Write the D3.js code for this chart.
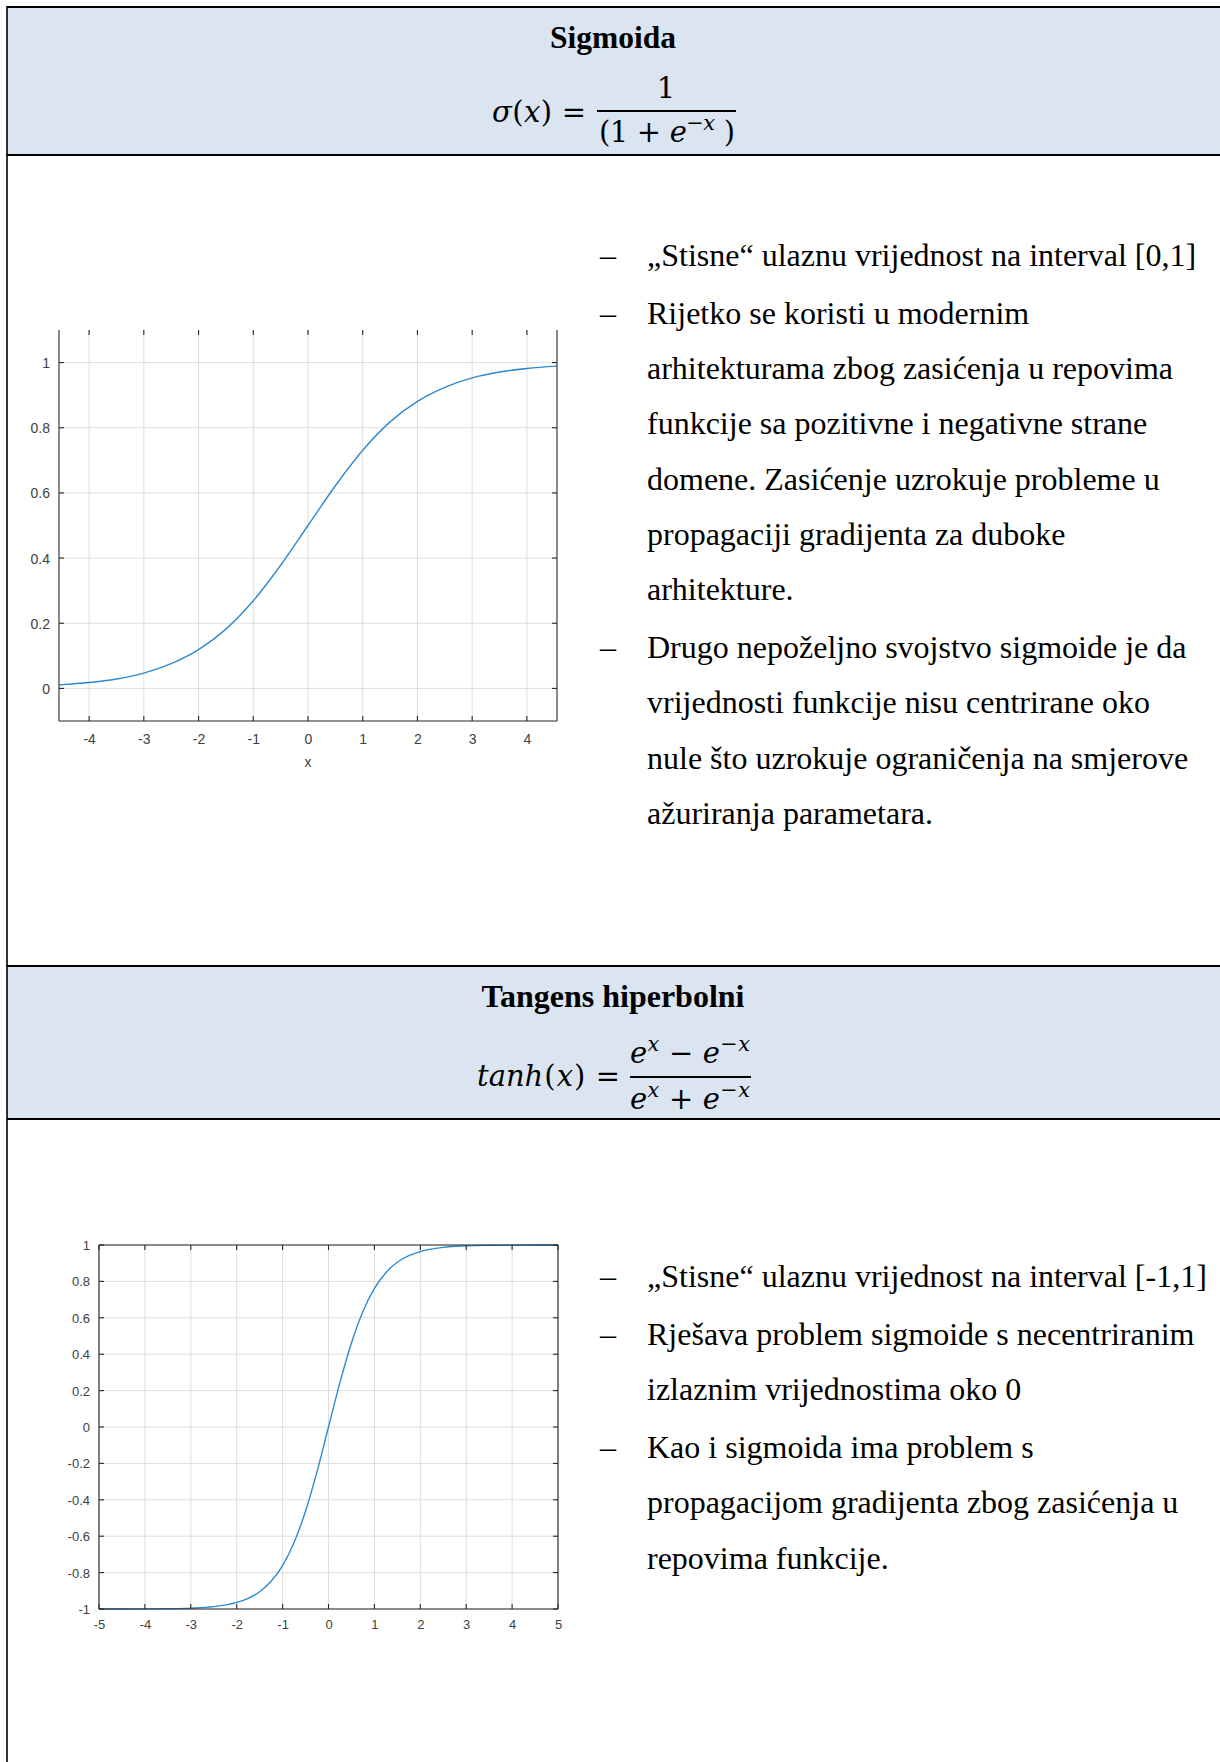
<!DOCTYPE html>
<html>
<head>
<meta charset="utf-8">
<script src="https://cdn.jsdelivr.net/npm/d3@7"></script>
<style>
  html, body { margin: 0; padding: 0; background: #ffffff; }
  svg { display: block; }
</style>
</head>
<body>
<svg id="page" width="1220" height="1762"></svg>
<script>
// ---------- DATA ----------
const sigmoidX = [-4.55, -4, -3.5, -3, -2.5, -2, -1.5, -1, -0.5, 0, 0.5, 1, 1.5, 2, 2.5, 3, 3.5, 4, 4.55];
const sigmoidY = [0.011, 0.018, 0.029, 0.047, 0.076, 0.119, 0.182, 0.269, 0.378, 0.5, 0.622, 0.731, 0.818, 0.881, 0.924, 0.953, 0.971, 0.982, 0.989];
const sigmoidXTicks = [-4, -3, -2, -1, 0, 1, 2, 3, 4];
const sigmoidYTicks = [0, 0.2, 0.4, 0.6, 0.8, 1];
const sigmoidXDomain = [-4.55, 4.55];
const sigmoidYDomain = [-0.1, 1.1];

const tanhX = [-5, -4.5, -4, -3.5, -3, -2.5, -2, -1.75, -1.5, -1.25, -1, -0.75, -0.5, -0.25, 0, 0.25, 0.5, 0.75, 1, 1.25, 1.5, 1.75, 2, 2.5, 3, 3.5, 4, 4.5, 5];
const tanhY = [-0.9999, -0.9998, -0.9993, -0.998, -0.995, -0.987, -0.964, -0.941, -0.905, -0.848, -0.762, -0.635, -0.462, -0.245, 0, 0.245, 0.462, 0.635, 0.762, 0.848, 0.905, 0.941, 0.964, 0.987, 0.995, 0.998, 0.9993, 0.9998, 0.9999];
const tanhXTicks = [-5, -4, -3, -2, -1, 0, 1, 2, 3, 4, 5];
const tanhYTicks = [-1, -0.8, -0.6, -0.4, -0.2, 0, 0.2, 0.4, 0.6, 0.8, 1];
const tanhXDomain = [-5, 5];
const tanhYDomain = [-1, 1];

const sigmoidTitle = "Sigmoida";
const tanhTitle = "Tangens hiperbolni";

const sigmoidLines = [
  { b: true,  t: "„Stisne“ ulaznu vrijednost na interval [0,1]" },
  { b: true,  t: "Rijetko se koristi u modernim" },
  { b: false, t: "arhitekturama zbog zasićenja u repovima" },
  { b: false, t: "funkcije sa pozitivne i negativne strane" },
  { b: false, t: "domene. Zasićenje uzrokuje probleme u" },
  { b: false, t: "propagaciji gradijenta za duboke" },
  { b: false, t: "arhitekture." },
  { b: true,  t: "Drugo nepoželjno svojstvo sigmoide je da" },
  { b: false, t: "vrijednosti funkcije nisu centrirane oko" },
  { b: false, t: "nule što uzrokuje ograničenja na smjerove" },
  { b: false, t: "ažuriranja parametara." }
];
const tanhLines = [
  { b: true,  t: "„Stisne“ ulaznu vrijednost na interval [-1,1]" },
  { b: true,  t: "Rješava problem sigmoide s necentriranim" },
  { b: false, t: "izlaznim vrijednostima oko 0" },
  { b: true,  t: "Kao i sigmoida ima problem s" },
  { b: false, t: "propagacijom gradijenta zbog zasićenja u" },
  { b: false, t: "repovima funkcije." }
];

// ---------- DRAWING ----------
const svg = d3.select("#page");
const SERIF = "'Liberation Serif', 'Times New Roman', serif";
const MATH = "'DejaVu Serif', 'Liberation Serif', serif";
const SANS = "'Liberation Sans', Arial, Helvetica, sans-serif";
const HEADER_FILL = "#dbe5f1";

function headerBand(y0, y1) {
  svg.append("rect").attr("x", 7).attr("y", y0).attr("width", 1220 - 7).attr("height", y1 - y0)
    .attr("fill", HEADER_FILL);
  svg.append("line").attr("x1", 7).attr("x2", 1220).attr("y1", y0).attr("y2", y0)
    .attr("stroke", "#000").attr("stroke-width", 2.2);
  svg.append("line").attr("x1", 7).attr("x2", 1220).attr("y1", y1).attr("y2", y1)
    .attr("stroke", "#000").attr("stroke-width", 2.2);
}
headerBand(7, 155);
headerBand(966, 1119);
svg.append("line").attr("x1", 7).attr("x2", 7).attr("y1", 6).attr("y2", 1762)
  .attr("stroke", "#000").attr("stroke-width", 1.6);

// titles
svg.append("text").attr("x", 613).attr("y", 48).attr("text-anchor", "middle")
  .attr("font-family", SERIF).attr("font-weight", "bold").attr("font-size", 31.5)
  .text(sigmoidTitle);
svg.append("text").attr("x", 613).attr("y", 1007).attr("text-anchor", "middle")
  .attr("font-family", SERIF).attr("font-weight", "bold").attr("font-size", 32)
  .text(tanhTitle);

// formulas: segments [text, italic, isSuperscript]
const FS = 29;
function formula(x, y, target, segs) {
  const t = svg.append("text").attr("x", x).attr("y", y)
    .attr("font-family", MATH).attr("font-size", FS).attr("fill", "#000");
  let inSup = false;
  const spans = [];
  segs.forEach(([txt, it, sup]) => {
    const s = t.append("tspan").text(txt);
    if (it) s.attr("font-style", "italic");
    if (sup) {
      s.attr("font-size", FS * 0.72);
      if (!inSup) { s.attr("dy", -12); inSup = true; }
    } else if (inSup) { s.attr("dy", 12); inSup = false; }
    spans.push(s);
  });
  if (target && spans.length > 1) {
    const natural = t.node().getComputedTextLength();
    const extra = (target - natural) / (spans.length - 1);
    spans.slice(1).forEach(s => s.attr("dx", extra));
  }
  return t;
}
// sigmoid
formula(492, 122, 94, [["σ", true], ["("], ["x", true], [")"], [" ="]]);
svg.append("line").attr("x1", 597).attr("x2", 736).attr("y1", 111).attr("y2", 111)
  .attr("stroke", "#000").attr("stroke-width", 2.2);
formula(666, 97.5, null, [["1"]]).attr("text-anchor", "middle");
formula(599, 142, 136, [["("], ["1"], [" + "], ["e", true], ["−", false, true], ["x", true, true], [" )"]]);
// tanh
formula(477, 1086, 143, [["tanh", true], ["("], ["x", true], [")"], [" ="]]);
svg.append("line").attr("x1", 630).attr("x2", 751).attr("y1", 1077).attr("y2", 1077)
  .attr("stroke", "#000").attr("stroke-width", 2.2);
formula(630, 1063, 120, [["e", true], ["x", true, true], [" − "], ["e", true], ["−", false, true], ["x", true, true]]);
formula(630, 1109, 120, [["e", true], ["x", true, true], [" + "], ["e", true], ["−", false, true], ["x", true, true]]);

// bullet text
function bullets(lines, y0) {
  let y = y0;
  lines.forEach((l, i) => {
    if (i > 0) y += 55.3 + (l.b ? 2.5 : 0);
    if (l.b) {
      svg.append("text").attr("x", 600).attr("y", y).attr("font-family", SERIF)
        .attr("font-size", 32).text("–");
    }
    svg.append("text").attr("x", 647).attr("y", y).attr("font-family", SERIF)
      .attr("font-size", 32).text(l.t);
  });
}
bullets(sigmoidLines, 266);
bullets(tanhLines, 1287);

// charts
function fmt(d) { return String(Math.round(d * 10) / 10); }
function chart(opts) {
  const { xs, ys, xDom, yDom, xTicks, yTicks, left, right, top, bottom, fontSize,
          xLabelGap, yLabelGap, topLine, xLabel } = opts;
  const x = d3.scaleLinear().domain(xDom).range([left, right]);
  const y = d3.scaleLinear().domain(yDom).range([bottom, top]);
  const g = svg.append("g");
  g.append("g").selectAll("line").data(xTicks).join("line")
    .attr("x1", d => x(d)).attr("x2", d => x(d)).attr("y1", top).attr("y2", bottom)
    .attr("stroke", "#dedede").attr("stroke-width", 1);
  g.append("g").selectAll("line").data(yTicks).join("line")
    .attr("x1", left).attr("x2", right).attr("y1", d => y(d)).attr("y2", d => y(d))
    .attr("stroke", "#dedede").attr("stroke-width", 1);
  const line = d3.line().x(d => x(d[0])).y(d => y(d[1])).curve(d3.curveMonotoneX);
  g.append("path").datum(xs.map((v, i) => [v, ys[i]])).attr("d", line)
    .attr("fill", "none").attr("stroke", "#2e8ad0").attr("stroke-width", 1.4);
  const TL = 5;
  const ax = g.append("g").attr("stroke", "#262626").attr("stroke-width", 1.1);
  const bottomAxis = d3.axisBottom(x).tickValues(xTicks).tickSize(0).tickFormat(fmt);
  const leftAxis = d3.axisLeft(y).tickValues(yTicks).tickSize(0).tickFormat(fmt);
  const bx = g.append("g").attr("transform", `translate(0,${bottom})`).call(bottomAxis);
  bx.select(".domain").remove();
  bx.selectAll("text").attr("dy", null).attr("y", xLabelGap).attr("dominant-baseline", "central")
    .attr("font-family", SANS).attr("font-size", fontSize).attr("fill", "#404040");
  const ly = g.append("g").attr("transform", `translate(${left},0)`).call(leftAxis);
  ly.select(".domain").remove();
  ly.selectAll("text").attr("dy", null).attr("x", -yLabelGap).attr("dominant-baseline", "central")
    .attr("font-family", SANS).attr("font-size", fontSize).attr("fill", "#404040");
  ax.append("line").attr("x1", left).attr("x2", left).attr("y1", top).attr("y2", bottom);
  ax.append("line").attr("x1", right).attr("x2", right).attr("y1", top).attr("y2", bottom);
  ax.append("line").attr("x1", left).attr("x2", right).attr("y1", bottom).attr("y2", bottom);
  if (topLine) ax.append("line").attr("x1", left).attr("x2", right).attr("y1", top).attr("y2", top);
  xTicks.forEach(d => {
    ax.append("line").attr("x1", x(d)).attr("x2", x(d)).attr("y1", bottom).attr("y2", bottom - TL);
    ax.append("line").attr("x1", x(d)).attr("x2", x(d)).attr("y1", top).attr("y2", top + TL);
  });
  yTicks.forEach(d => {
    ax.append("line").attr("x1", left).attr("x2", left + TL).attr("y1", y(d)).attr("y2", y(d));
    ax.append("line").attr("x1", right).attr("x2", right - TL).attr("y1", y(d)).attr("y2", y(d));
  });
  if (xLabel) {
    g.append("text").attr("x", (left + right) / 2).attr("y", bottom + 41)
      .attr("text-anchor", "middle").attr("dominant-baseline", "central")
      .attr("font-family", SANS).attr("font-size", fontSize).attr("fill", "#404040").text(xLabel);
  }
}

chart({ xs: sigmoidX, ys: sigmoidY, xDom: sigmoidXDomain, yDom: sigmoidYDomain,
        xTicks: sigmoidXTicks, yTicks: sigmoidYTicks,
        left: 59, right: 557, top: 330, bottom: 721, fontSize: 14,
        xLabelGap: 18, yLabelGap: 9, topLine: false, xLabel: "x" });

chart({ xs: tanhX, ys: tanhY, xDom: tanhXDomain, yDom: tanhYDomain,
        xTicks: tanhXTicks, yTicks: tanhYTicks,
        left: 99, right: 558, top: 1245, bottom: 1609, fontSize: 13,
        xLabelGap: 15, yLabelGap: 9, topLine: true, xLabel: null });
</script>
</body>
</html>
